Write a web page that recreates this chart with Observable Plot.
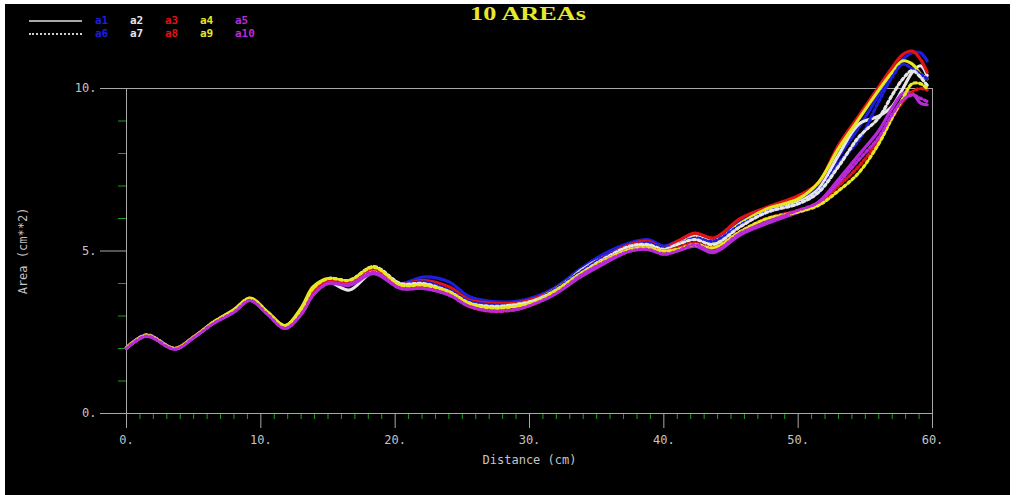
<!DOCTYPE html>
<html><head><meta charset="utf-8">
<script src="https://cdn.jsdelivr.net/npm/d3@7"></script>
<script src="https://cdn.jsdelivr.net/npm/@observablehq/plot@0.6"></script>
<style>
html,body{margin:0;padding:0;background:#fff;}
#wrap{position:absolute;left:5px;top:4px;width:1005px;height:491px;background:#000;overflow:hidden;}
#head{position:relative;height:46px;}
#title{position:absolute;left:0;top:-1px;width:1046px;text-align:center;}
#title span{display:inline-block;font-family:"Liberation Serif",serif;font-weight:bold;font-size:19px;color:#e8e82a;transform:scaleX(1.38);transform-origin:center;}
.lg{position:absolute;font-family:"DejaVu Sans Mono",monospace;font-size:11px;font-weight:bold;line-height:11px;}
.sw{position:absolute;width:53px;height:0;}
</style>
</head><body>
<div id="wrap"><div id="head"><div id="title"><span>10 AREAs</span></div></div><div id="chart"></div></div>
<script>
const titleText = "10 AREAs";
const xLabel = "Distance (cm)";
const yLabel = "Area (cm**2)";
const xMajor = [0, 10, 20, 30, 40, 50, 60];
const xMinor = d3.range(1, 60).filter(v => v % 10 !== 0);
const yMajor = [0, 5, 10];
const yMinor = [1, 2, 3, 4, 6, 7, 8, 9];

const seriesNames = ["a1","a2","a3","a4","a5","a6","a7","a8","a9","a10"];
const seriesColors = ["#1e1ee0","#e6e6e6","#e01414","#e8e820","#b82ad8","#1e1ee0","#e6e6e6","#e01414","#e8e820","#b82ad8"];
const dotted = ["a6","a7","a8","a9","a10"];

const distance = [0, 1.5, 3.6, 5, 6.5, 8, 9.2, 10.5, 11.8, 13, 13.9, 15, 16.6, 18.4, 20.4, 22.1, 24, 25.5, 27.1, 29, 30.5, 32, 33.8, 35.5, 37.5, 38.8, 40, 41, 42.3, 43.7, 45.7, 47.7, 50, 51.5, 53, 54.5, 56, 57, 57.8, 58.5, 59.1, 59.6];

const a1 = [2.02, 2.42, 2.0, 2.35, 2.8, 3.15, 3.5, 3.1, 2.7, 3.15, 3.8, 4.1, 4.0, 4.38,
  4.0, 4.2, 4.05, 3.6, 3.45, 3.45, 3.6, 3.9, 4.45, 4.9, 5.25, 5.35,
  5.15, 5.3, 5.45, 5.35, 5.9, 6.25, 6.55, 6.95,
  7.9, 8.8, 9.8, 10.45, 10.9, 11.1, 11.1, 10.85];
const a2 = [2.02, 2.4, 2.0, 2.35, 2.8, 3.15, 3.5, 3.1, 2.7, 3.2, 3.85, 4.05, 3.8, 4.35,
  3.95, 4.0, 3.7, 3.4, 3.3, 3.3, 3.45, 3.75, 4.4, 4.8, 5.1, 5.15,
  5.05, 5.25, 5.45, 5.3, 5.8, 6.2, 6.5, 6.9,
  7.95, 8.9, 9.15, 9.45, 10.0, 10.5, 10.7, 10.4];
const a3 = [2.02, 2.4, 2.0, 2.35, 2.8, 3.15, 3.5, 3.1, 2.68, 3.1, 3.75, 4.1, 4.0, 4.35,
  4.0, 4.1, 3.9, 3.5, 3.4, 3.4, 3.55, 3.85, 4.35, 4.8, 5.2, 5.3,
  5.1, 5.3, 5.55, 5.4, 6.0, 6.35, 6.7, 7.1,
  8.25, 9.15, 10.05, 10.65, 11.05, 11.15, 10.9, 10.5];
const a4 = [2.02, 2.4, 2.0, 2.35, 2.82, 3.2, 3.55, 3.12, 2.7, 3.25, 3.9, 4.15, 4.05, 4.4,
  3.95, 4.0, 3.75, 3.4, 3.3, 3.35, 3.5, 3.85, 4.35, 4.75, 5.1, 5.15,
  5.05, 5.2, 5.4, 5.25, 5.85, 6.3, 6.6, 7.1,
  8.15, 9.05, 9.95, 10.5, 10.85, 10.75, 10.45, 10.3];
const a5 = [2.0, 2.38, 1.98, 2.33, 2.78, 3.12, 3.48, 3.05, 2.62, 3.05, 3.65, 4.0, 3.95, 4.3,
  3.85, 3.85, 3.65, 3.3, 3.18, 3.2, 3.4, 3.7, 4.2, 4.6, 5.0, 5.05,
  4.9, 5.0, 5.15, 4.95, 5.5, 5.85, 6.2, 6.5,
  7.2, 7.95, 8.7, 9.4, 9.85, 9.85, 9.55, 9.5];
const a6 = [2.02, 2.42, 2.0, 2.35, 2.8, 3.15, 3.52, 3.1, 2.68, 3.15, 3.8, 4.15, 4.08, 4.5,
  4.0, 4.05, 3.8, 3.45, 3.35, 3.35, 3.5, 3.85, 4.35, 4.8, 5.15, 5.25,
  5.1, 5.2, 5.4, 5.3, 5.8, 6.2, 6.45, 6.8,
  7.7, 8.4, 9.6, 10.35, 10.75, 10.6, 10.45, 10.3];
const a7 = [2.02, 2.42, 2.0, 2.35, 2.8, 3.15, 3.52, 3.1, 2.68, 3.15, 3.8, 4.15, 4.1, 4.52,
  4.0, 4.0, 3.75, 3.4, 3.3, 3.35, 3.5, 3.8, 4.3, 4.75, 5.15, 5.2,
  5.05, 5.2, 5.35, 5.2, 5.75, 6.2, 6.45, 6.8,
  7.6, 8.5, 9.1, 9.8, 10.3, 10.55, 10.35, 10.1];
const a8 = [2.02, 2.4, 2.0, 2.35, 2.8, 3.15, 3.5, 3.08, 2.66, 3.1, 3.75, 4.1, 4.05, 4.45,
  3.9, 3.9, 3.7, 3.3, 3.15, 3.2, 3.4, 3.75, 4.25, 4.7, 5.05, 5.1,
  5.0, 5.1, 5.25, 5.1, 5.6, 6.0, 6.25, 6.45,
  7.0, 7.6, 8.4, 9.1, 9.6, 9.9, 10.0, 9.95];
const a9 = [2.02, 2.4, 2.0, 2.35, 2.82, 3.18, 3.55, 3.12, 2.7, 3.2, 3.85, 4.15, 4.1, 4.5,
  3.95, 3.95, 3.75, 3.4, 3.25, 3.3, 3.45, 3.8, 4.3, 4.7, 5.05, 5.1,
  5.0, 5.05, 5.2, 5.1, 5.6, 6.0, 6.2, 6.4,
  6.85, 7.4, 8.3, 9.1, 9.7, 10.15, 10.15, 10.0];
const a10 = [2.0, 2.38, 1.98, 2.33, 2.78, 3.12, 3.48, 3.05, 2.62, 3.05, 3.65, 4.0, 3.98, 4.35,
  3.85, 3.85, 3.65, 3.3, 3.15, 3.2, 3.4, 3.7, 4.25, 4.65, 5.0, 5.05,
  4.9, 5.0, 5.2, 5.0, 5.55, 5.9, 6.25, 6.5,
  7.1, 7.8, 8.5, 9.2, 9.65, 9.8, 9.7, 9.6];

const seriesValues = {a1, a2, a3, a4, a5, a6, a7, a8, a9, a10};
const rows = seriesNames.flatMap(s => seriesValues[s].map((v, i) => ({series: s, distance: distance[i], area: v})));
const solidRows = rows.filter(r => !dotted.includes(r.series));
const dottedRows = rows.filter(r => dotted.includes(r.series));

// legend
const head = document.getElementById("head");
[["solid", 16], ["dotted", 29]].forEach(([st, top]) => {
  const d = document.createElement("div");
  d.className = "sw";
  d.style.left = "24px"; d.style.top = top + "px";
  d.style.borderTop = st === "solid" ? "2px solid #a8a8a8" : "2px dotted #d0d0d0";
  head.appendChild(d);
});
seriesNames.forEach((s, i) => {
  const d = document.createElement("div");
  d.className = "lg";
  d.textContent = s;
  d.style.color = seriesColors[i];
  d.style.left = (90 + (i % 5) * 35) + "px";
  d.style.top = (i < 5 ? 11 : 24) + "px";
  head.appendChild(d);
});

const chart = Plot.plot({
  width: 1005, height: 445,
  marginTop: 38, marginBottom: 82, marginLeft: 121, marginRight: 78,
  style: {background: "#000", color: "#c0c0c0", fontFamily: "'DejaVu Sans Mono', monospace", fontSize: "12px", overflow: "visible"},
  x: {domain: [0, 60]},
  y: {domain: [0, 10]},
  color: {domain: seriesNames, range: seriesColors},
  marks: [
    Plot.axisY({ticks: yMinor, tickSize: 8, tickFormat: () => "", stroke: "#1e9e1e", label: null}),
    Plot.axisY({ticks: yMajor, tickSize: 26, tickPadding: 4, tickFormat: d => d + ".", stroke: "#a8a8a8", fill: "#c4c4c4", label: yLabel, labelAnchor: "center", labelOffset: 108, labelArrow: false}),
    Plot.axisX({ticks: xMinor, tickSize: 6, tickFormat: () => "", stroke: "#1e9e1e", label: null}),
    Plot.axisX({ticks: xMajor, tickSize: 15, tickPadding: 7, tickFormat: d => d + ".", stroke: "#a8a8a8", fill: "#c4c4c4", label: xLabel, labelAnchor: "center", labelOffset: 50, labelArrow: false}),
    Plot.frame({stroke: "#a8a8a8"}),
    Plot.line(solidRows, {x: "distance", y: "area", z: "series", stroke: "series", strokeWidth: 3.2, curve: "catmull-rom"}),
    Plot.line(dottedRows, {x: "distance", y: "area", z: "series", stroke: "series", strokeWidth: 3.2, strokeDasharray: "2.5,3", curve: "catmull-rom"})
  ]
});
document.getElementById("chart").appendChild(chart);
</script>
</body></html>
